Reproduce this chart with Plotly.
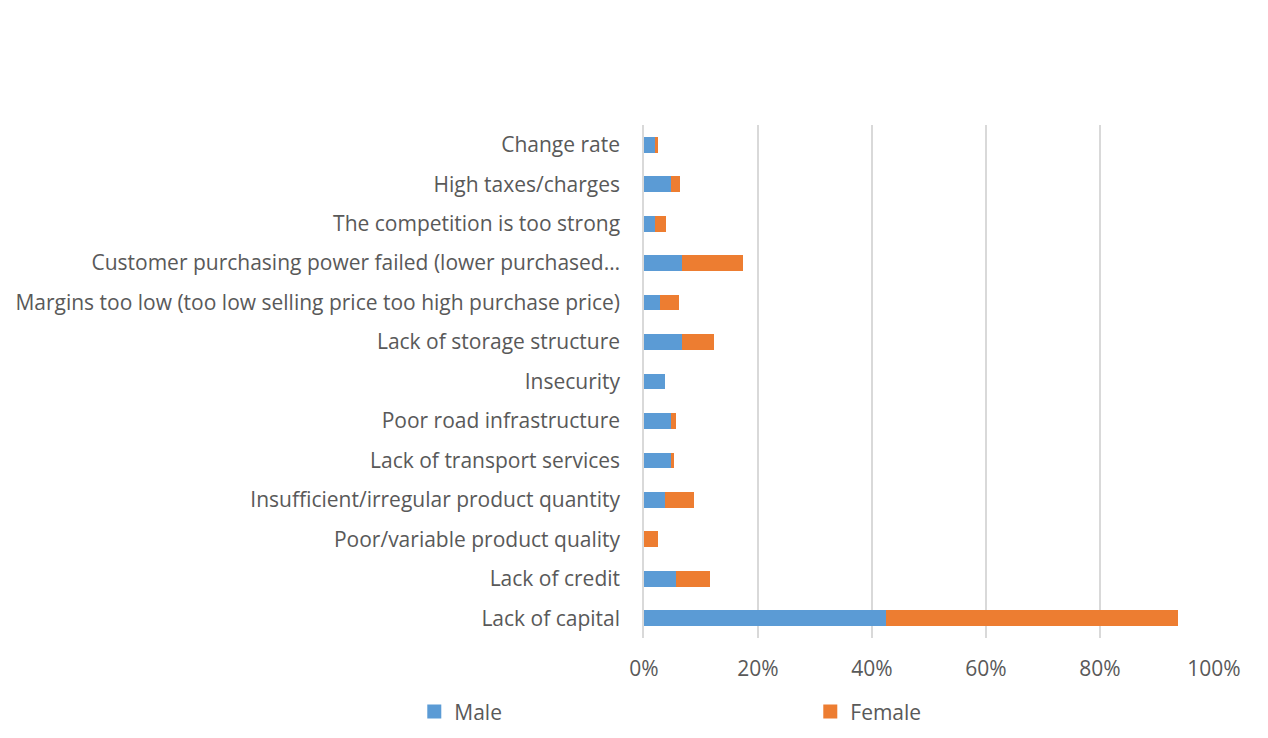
import plotly.graph_objects as go

categories = [
    "Lack of capital",
    "Lack of credit",
    "Poor/variable product quality",
    "Insufficient/irregular product quantity",
    "Lack of transport services",
    "Poor road infrastructure",
    "Insecurity",
    "Lack of storage structure",
    "Margins too low (too low selling price too high purchase price)",
    "Customer purchasing power failed (lower purchased…",
    "The competition is too strong",
    "High taxes/charges",
    "Change rate",
]
male = [42.5, 5.6, 0.0, 3.7, 4.7, 4.7, 3.7, 6.6, 2.8, 6.6, 1.9, 4.7, 1.9]
female = [51.2, 6.0, 2.5, 5.0, 0.6, 0.9, 0.0, 5.7, 3.3, 10.7, 1.9, 1.7, 0.6]
x_ticks = [0, 20, 40, 60, 80, 100]
x_tick_labels = ["0%", "20%", "40%", "60%", "80%", "100%"]

FONT = "Open Sans"
TXT = "#595959"
FS = 21
BLUE = "#5B9BD5"
ORANGE = "#ED7D31"

fig = go.Figure()
fig.add_trace(go.Bar(y=categories, x=male, name="Male", orientation="h",
                     marker=dict(color=BLUE, line=dict(width=0)), showlegend=False))
fig.add_trace(go.Bar(y=categories, x=female, name="Female", orientation="h",
                     marker=dict(color=ORANGE, line=dict(width=0)), showlegend=False))
# legend entries (square keys like the original)
fig.add_trace(go.Scatter(x=[None], y=[None], mode="markers", name="Male",
                         marker=dict(symbol="square", size=14, color=BLUE)))
fig.add_trace(go.Scatter(x=[None], y=[None], mode="markers", name="Female",
                         marker=dict(symbol="square", size=14, color=ORANGE)))

fig.update_layout(
    barmode="stack",
    bargap=0.6,
    width=1268, height=738,
    margin=dict(l=636, r=62, t=117, b=108, autoexpand=False),
    paper_bgcolor="white", plot_bgcolor="white",
    font=dict(family=FONT, size=FS, color=TXT),
    showlegend=True,
    legend=dict(orientation="h", x=-0.403, xanchor="left", y=-0.144, yanchor="middle",
                entrywidth=351, entrywidthmode="pixels",
                font=dict(family=FONT, size=FS, color=TXT),
                itemclick=False, traceorder="normal"),
    xaxis=dict(range=[0, 100], tickvals=x_ticks, ticktext=x_tick_labels,
               showgrid=True, gridcolor="#D9D9D9", gridwidth=1.5,
               zeroline=False, showline=False, ticks="", ticklabelstandoff=16,
               tickfont=dict(family=FONT, size=FS, color=TXT), fixedrange=True),
    yaxis=dict(categoryorder="array", categoryarray=categories,
               showgrid=False, zeroline=False, showline=True, linecolor="#D9D9D9",
               linewidth=1.5, ticks="", ticklabelstandoff=18,
               tickfont=dict(family=FONT, size=FS, color=TXT), fixedrange=True),
)

fig.write_html("out.html")
